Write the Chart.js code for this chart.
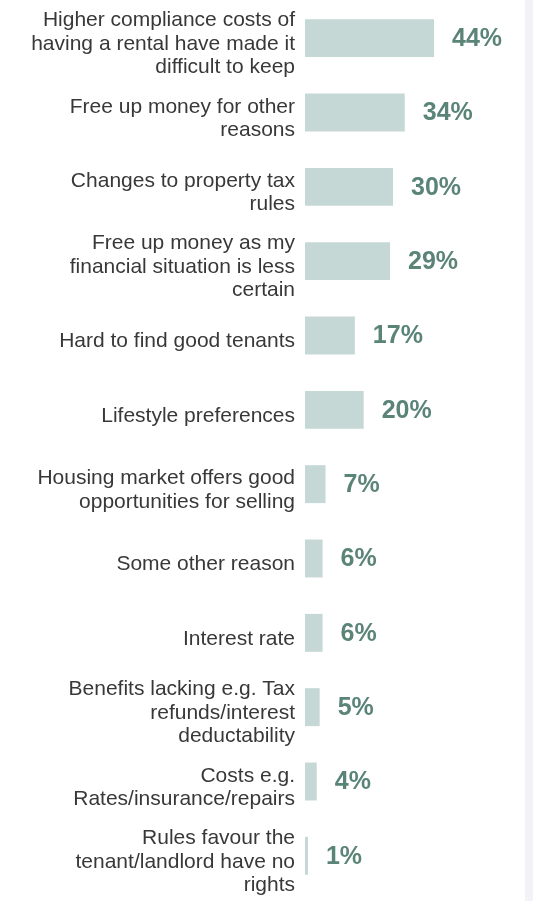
<!DOCTYPE html>
<html>
<head>
<meta charset="utf-8">
<script src="https://cdn.jsdelivr.net/npm/chart.js@4.4.1/dist/chart.umd.min.js"></script>
<style>
  html, body { margin: 0; padding: 0; background: #f3f2f7; }
  #wrap { width: 525px; height: 901px; background: #ffffff; position: relative; }
</style>
</head>
<body>
<div id="wrap"><canvas id="grafica"></canvas></div>
<script>
// Reasons (one line per array entry, as wrapped in the original)
const reasons = [
  ['Higher compliance costs of', 'having a rental have made it', 'difficult to keep'],
  ['Free up money for other', 'reasons'],
  ['Changes to property tax', 'rules'],
  ['Free up money as my', 'financial situation is less', 'certain'],
  'Hard to find good tenants',
  'Lifestyle preferences',
  ['Housing market offers good', 'opportunities for selling'],
  'Some other reason',
  'Interest rate',
  ['Benefits lacking e.g. Tax', 'refunds/interest', 'deductability'],
  ['Costs e.g.', 'Rates/insurance/repairs'],
  ['Rules favour the', 'tenant/landlord have no', 'rights'],
];

// Percent of respondents
const shares = [44, 34, 30, 29, 17, 20, 7, 6, 6, 5, 4, 1];

const ctx = document.getElementById('grafica').getContext('2d');

// Value labels to the right of each bar
const valueLabels = {
  id: 'valueLabels',
  afterDatasetsDraw(chart) {
    const c = chart.ctx;
    const meta = chart.getDatasetMeta(0);
    c.save();
    c.font = 'bold 25px "Liberation Sans", Arial, sans-serif';
    c.fillStyle = '#5b8478'; // verde grisaceo
    c.textAlign = 'left';
    c.textBaseline = 'middle';
    meta.data.forEach((bar, i) => {
      c.fillText(shares[i] + '%', bar.x + 18, bar.y + 1);
    });
    c.restore();
  },
};

new Chart(ctx, {
  type: 'bar',
  data: {
    labels: reasons,
    datasets: [
      {
        data: shares,
        backgroundColor: '#c5d8d5', // Verde muy claro
        borderWidth: 0,
        categoryPercentage: 1,
        barPercentage: 0.51,
      },
    ],
  },
  options: {
    indexAxis: 'y',
    responsive: true,
    maintainAspectRatio: false,
    animation: false,
    layout: {
      autoPadding: false,
      padding: { top: 1, bottom: 8, left: 0, right: 0 },
    },
    plugins: {
      legend: { display: false },
      tooltip: { enabled: false },
    },
    scales: {
      x: {
        display: false,
        min: 0,
        max: 75,
      },
      y: {
        afterFit(scale) {
          scale.width = 305;
          // las etiquetas largas no deben empujar el area del grafico
          scale.paddingTop = 0;
          scale.paddingBottom = 0;
        },
        grid: { display: false, drawTicks: false, tickLength: 0 },
        border: { display: false },
        ticks: {
          color: '#383838',
          padding: 10,
          labelOffset: 6,
          autoSkip: false,
          font: {
            family: '"Liberation Sans", Arial, sans-serif',
            size: 21,
            lineHeight: 1.12,
          },
        },
      },
    },
  },
  plugins: [valueLabels],
});
</script>
</body>
</html>
